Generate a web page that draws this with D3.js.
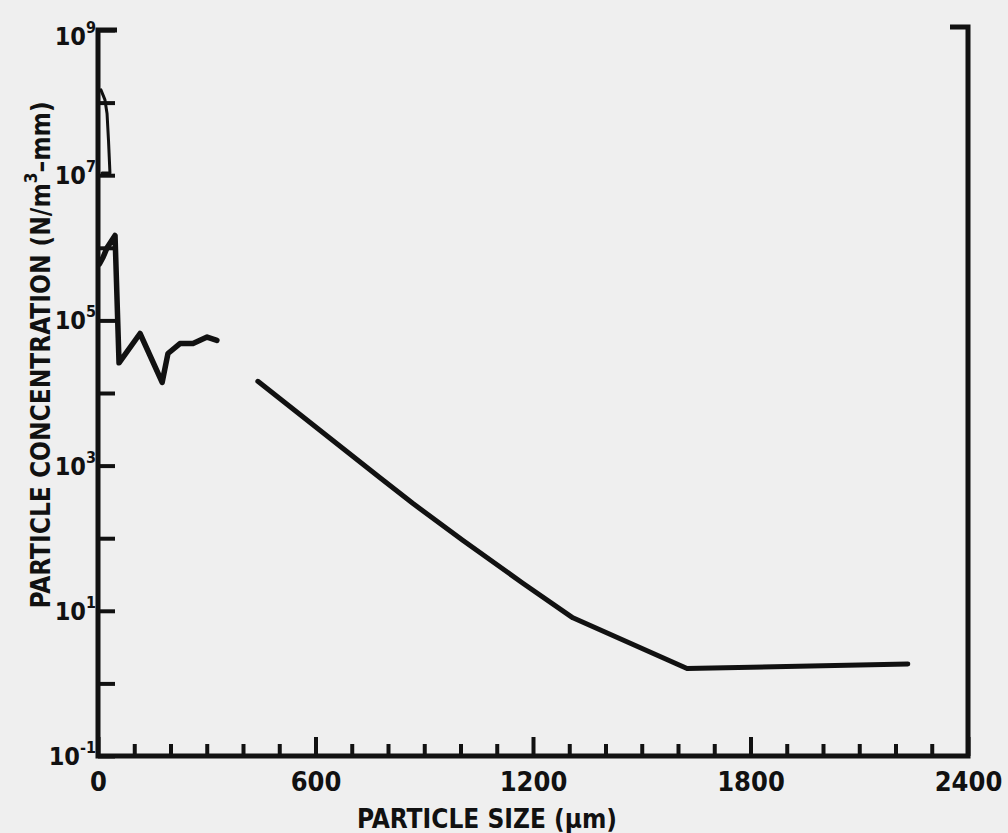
<!DOCTYPE html>
<html>
<head>
<meta charset="utf-8">
<script src="https://cdn.jsdelivr.net/npm/d3@7"></script>
<style>
    body { margin: 0; background: #efefef; }
    svg { display: block; }
    text {
        font-family: "DejaVu Sans Condensed", "Liberation Sans Narrow", "DejaVu Sans", sans-serif;
        font-weight: bold;
        fill: #111;
    }
</style>
</head>
<body>
<svg id="chart" width="1008" height="833"></svg>
<script>
// ======================================================================
// DATA
// ======================================================================

var xTickLabels = [0, 600, 1200, 1800, 2400];
var yExponents = [-1, 1, 3, 5, 7, 9];

// thin spike near the axis
var spikeSize = [8, 19, 25, 29, 33, 11];
var spikeConc = [1.5e8, 1.1e8, 7e7, 3e7, 1.07e7, 1.07e7];

// small particle curve
var smallSize = [4, 14, 25, 47, 58, 116, 177, 193, 226, 262, 301, 328];
var smallConc = [6e5, 7.4e5, 1.0e6, 1.48e6, 2.6e4, 6.6e4, 1.4e4, 3.5e4, 4.8e4, 4.8e4, 5.9e4, 5.3e4];

// large particle curve
var largeSize = [441, 778, 869, 1007, 1172, 1310, 1625, 2234];
var largeConc = [1.45e4, 680, 300, 93, 24, 8, 1.6, 1.85];

var svg, x, y, line, ink;

window.onload = function() {
    svg = d3.select("#chart");
    ink = "#111";

    x = d3.scaleLinear().domain([0, 2400]).range([98, 968]);
    y = d3.scaleLog().domain([1e-1, 1e9]).range([756, 30]);

    // ======================================================================
    // AXES
    // ======================================================================

    var xAxis = d3.axisBottom(x)
        .tickValues(d3.range(0, 2401, 100))
        .tickSize(-12)
        .tickPadding(16)
        .tickFormat(function(d) { return xTickLabels.indexOf(d) > -1 ? d : ""; });

    var gx = svg.append("g")
        .attr("transform", "translate(0," + y(1e-1) + ")")
        .call(xAxis);
    gx.select(".domain").remove();
    gx.selectAll(".tick line")
        .attr("stroke", ink)
        .attr("stroke-width", 4)
        .attr("y2", function(d) { return d % 600 === 0 ? -19 : -12; });
    gx.selectAll(".tick text")
        .attr("font-size", 27)
        .attr("dy", "0.71em");

    var decades = d3.range(-1, 10).map(function(e) { return Math.pow(10, e); });
    var yAxis = d3.axisLeft(y).tickValues(decades).tickSize(-17).tickFormat("");
    var gy = svg.append("g")
        .attr("transform", "translate(" + x(0) + ",0)")
        .call(yAxis);
    gy.select(".domain").remove();
    gy.selectAll(".tick line").attr("stroke", ink).attr("stroke-width", 4);

    // frame: left, bottom, right plus the two little stubs on top
    var frame = "M" + (x(0) + 19) + "," + y(1e9) +
        "H" + x(0) + "V" + y(1e-1) + "H" + x(2400) + "V" + (y(1e9) - 3) +
        "H" + (x(2400) - 18);
    svg.append("path")
        .attr("d", frame)
        .attr("fill", "none")
        .attr("stroke", ink)
        .attr("stroke-width", 5)
        .attr("stroke-linejoin", "miter");

    // y tick labels: 10 with the exponent raised
    yExponents.forEach(function(e) {
        var t = svg.append("text")
            .attr("x", x(0) - 2)
            .attr("y", y(Math.pow(10, e)) + (e === 9 ? 15 : 9))
            .attr("text-anchor", "end")
            .attr("font-size", 25);
        t.append("tspan").text("10");
        t.append("tspan").attr("dy", -12).attr("font-size", 16).text(e);
    });

    // ======================================================================
    // TITLES
    // ======================================================================

    svg.append("text")
        .attr("x", 487)
        .attr("y", 828)
        .attr("text-anchor", "middle")
        .attr("font-size", 26)
        .text("PARTICLE SIZE (\u03bcm)");

    var yt = svg.append("text")
        .attr("transform", "translate(50,355) rotate(-90)")
        .attr("text-anchor", "middle")
        .attr("font-size", 26);
    yt.append("tspan").text("PARTICLE CONCENTRATION (N/m");
    yt.append("tspan").attr("dy", -13).attr("font-size", 17).text("3");
    yt.append("tspan").attr("dy", 13).text("\u2013mm)");

    // ======================================================================
    // CURVES
    // ======================================================================

    line = d3.line()
        .x(function(d) { return x(d[0]); })
        .y(function(d) { return y(d[1]); });

    function drawCurve(sizes, concs, width) {
        svg.append("path")
            .datum(d3.zip(sizes, concs))
            .attr("d", line)
            .attr("fill", "none")
            .attr("stroke", ink)
            .attr("stroke-width", width)
            .attr("stroke-linejoin", "round")
            .attr("stroke-linecap", "round");
    }

    drawCurve(spikeSize, spikeConc, 3);
    drawCurve(smallSize, smallConc, 5.5);
    drawCurve(largeSize, largeConc, 5);
};
</script>
</body>
</html>
